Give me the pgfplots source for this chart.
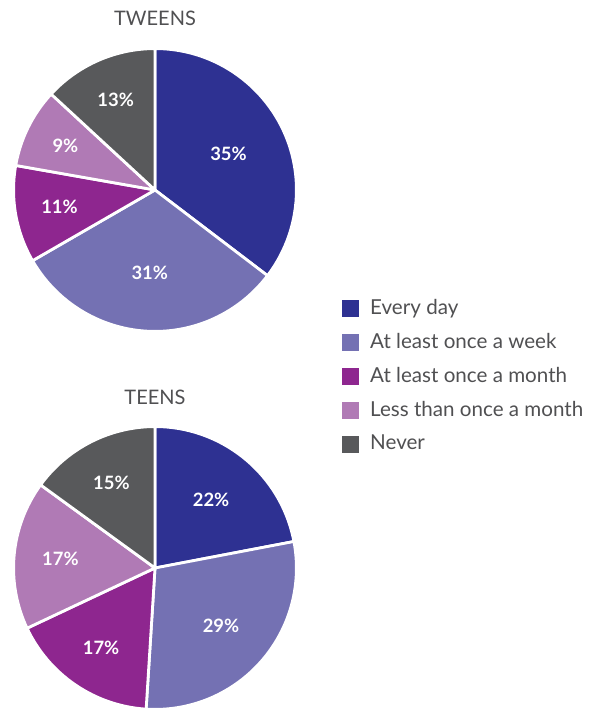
\documentclass[border=0pt]{standalone}
\usepackage{pgfplots}
\pgfplotsset{compat=1.18}
\usepackage{pgfplotstable}
\usepackage{fontspec}
\setmainfont{Lato}
\definecolor{cA}{RGB}{46,49,146}
\definecolor{cB}{RGB}{116,113,179}
\definecolor{cC}{RGB}{142,38,143}
\definecolor{cD}{RGB}{176,122,181}
\definecolor{cE}{RGB}{88,89,91}
\definecolor{txt}{RGB}{80,80,82}
\pgfdeclareplotmark{emptymark}{}

% x y (pixel position of centre), start = cumulative share before slice, pct, tot = sum, idx = colour, lr = label radius (pt)
\pgfplotstableread{
x y start pct tot idx lr
155 518 0 35 99 0 41
155 518 35 31 99 1 41.5
155 518 66 11 99 2 48.5
155 518 77 9 99 3 50
155 518 86 13 99 4 49
}\tweens
\pgfplotstableread{
x y start pct tot idx lr
155 140 0 22 100 0 44
155 140 22 29 100 1 44
155 140 51 17 100 2 48
155 140 68 17 100 3 47.5
155 140 85 15 100 4 48
}\teens

\pgfplotsset{
  piewedges/.style={
    scatter, only marks, mark=emptymark, forget plot,
    point meta=explicit, point meta min=0, point meta max=4,
    visualization depends on={\thisrow{start}\as\startv},
    visualization depends on={\thisrow{tot}\as\totv},
    visualization depends on={\thisrow{lr}\as\lrv},
    visualization depends on={\thisrow{pct}\as\pctv},
    scatter/@pre marker code/.code={%
      \pgfplotscolormapdefinemappedcolor{\pgfplotspointmetatransformed}%
      \pgfmathsetmacro\aS{90-\startv/\totv*360}%
      \pgfmathsetmacro\aE{90-(\startv+\pctv)/\totv*360}%
      \pgfmathsetmacro\aM{(\aS+\aE)/2}%
      \filldraw[fill=mapped color, draw=white, line width=1.4pt, line join=round]
        (0,0) -- (\aS:70.7pt) arc[start angle=\aS, end angle=\aE, radius=70.7pt] -- cycle;
      \node[text=white, font=\fontsize{9.2}{10}\selectfont\bfseries] at (\aM:\lrv pt)
        {\pgfmathprintnumber[fixed, precision=0, assume math mode=true]{\pctv}\%};
    },
    scatter/@post marker code/.code={},
  },
}

\begin{document}
\begin{tikzpicture}
\begin{axis}[
  scale only axis, width=301pt, height=354pt,
  xmin=0, xmax=602, ymin=0, ymax=708,
  hide axis, clip=false,
  colormap={pie}{rgb255=(46,49,146) rgb255=(116,113,179) rgb255=(142,38,143) rgb255=(176,122,181) rgb255=(88,89,91)},
  legend cell align=left,
  legend image code/.code={\fill (0pt,-4pt) rectangle (8pt,4pt); \path (11.5pt,0pt);},
  legend style={at={(axis cs:342,413.5)}, anchor=north west, draw=none, fill=none,
    font=\fontsize{10.3}{12}\selectfont\color{txt}, row sep=3.95pt, inner sep=0pt},
]
\addplot[piewedges] table[x=x, y=y, meta=idx] {\tweens};
\addplot[piewedges] table[x=x, y=y, meta=idx] {\teens};
\addlegendimage{cA}\addlegendentry{Every day}
\addlegendimage{cB}\addlegendentry{At least once a week}
\addlegendimage{cC}\addlegendentry{At least once a month}
\addlegendimage{cD}\addlegendentry{Less than once a month}
\addlegendimage{cE}\addlegendentry{Never}
\node[text=txt, font=\fontsize{10}{12}\selectfont] at (axis cs:155,690) {TWEENS};
\node[text=txt, font=\fontsize{10}{12}\selectfont] at (axis cs:155,311) {TEENS};
\coordinate (bbsw) at (rel axis cs:0,0);
\coordinate (bbne) at (rel axis cs:1,1);
\end{axis}
\pgfresetboundingbox
\path[use as bounding box] (bbsw) rectangle (bbne);
\end{tikzpicture}
\end{document}
